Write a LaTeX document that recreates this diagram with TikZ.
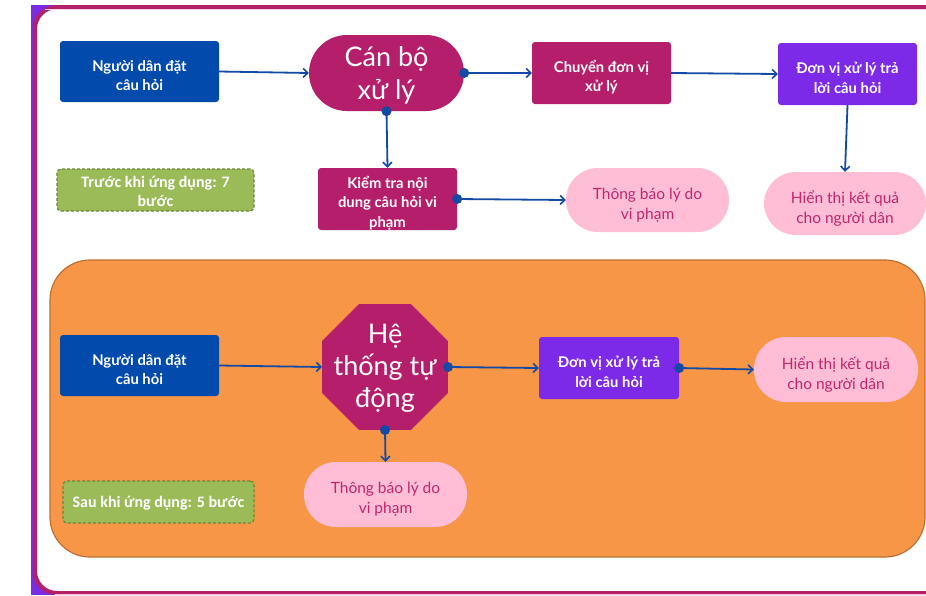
\documentclass[tikz,border=0pt]{standalone}
\usepackage{fontspec}
\setmainfont{Lato}
\newfontfamily\carl{Carlito}
\usetikzlibrary{shapes.geometric,arrows.meta}
\definecolor{fpurple}{RGB}{123,43,224}
\definecolor{fmag}{RGB}{181,32,106}
\definecolor{cblue}{RGB}{3,74,173}
\definecolor{cmag}{RGB}{180,30,106}
\definecolor{cpurple}{RGB}{125,42,232}
\definecolor{cpink}{RGB}{255,189,214}
\definecolor{cpinktext}{RGB}{190,40,110}
\definecolor{cgreen}{RGB}{155,187,89}
\definecolor{cgreenb}{RGB}{105,135,55}
\definecolor{corange}{RGB}{246,150,70}
\definecolor{coranb}{RGB}{190,112,52}
\definecolor{carrow}{RGB}{18,74,165}
\tikzset{
  box/.style={rectangle, rounded corners=3pt, inner sep=0pt},
  boxtext/.style={text=white, align=center, inner sep=0pt, yshift=-4pt,
    font=\fontsize{14.8}{19.5}\selectfont\bfseries},
  bigtext/.style={text=white, align=center, inner sep=0pt, yshift=-2pt,
    font=\fontsize{27}{33}\selectfont},
  pinktext/.style={text=cpinktext, align=center, inner sep=0pt, yshift=-5pt,
    font=\fontsize{15.5}{20}\selectfont},
  greentext/.style={text=white, align=center, inner sep=0pt, yshift=-1.5pt,
    font=\carl\fontsize{16}{18.5}\selectfont\bfseries},
  bluebox/.style={box, fill=cblue, minimum width=159, minimum height=61},
  magbox/.style={box, fill=cmag, minimum width=139, minimum height=62},
  purbox/.style={box, fill=cpurple, minimum width=139, minimum height=62},
  pinkbox/.style={rectangle, rounded corners=32pt, fill=cpink,
    minimum width=163, minimum height=64, inner sep=0pt},
  greenbox/.style={rectangle, rounded corners=4pt, fill=cgreen, draw=cgreenb,
    line width=1.2pt, dash pattern=on 3pt off 2pt, inner sep=0pt},
  conn/.style={draw=carrow, line width=1.8pt, -{Straight Barb[length=4.5pt,width=9pt,line width=1.6pt]}},
  dot/.style={fill=carrow},
}
\begin{document}
\begin{tikzpicture}[x=1pt,y=-1pt]
\useasboundingbox (0,0) rectangle (926,595);
% frame
\fill[fpurple] (31,5) rectangle (926,595);
\draw[fmag, line width=4pt, fill=white, rounded corners=22pt] (35,7) rectangle (990,593);
\draw[cpink!70, line width=1pt] (45,9.5) -- (926,9.5);
\draw[cpink, line width=1.5pt] (55,594.5) -- (926,594.5);
% bottom panel
\draw[fill=corange, draw=coranb, line width=1.2pt, rounded corners=40pt] (50,260) rectangle (925,557);

% top section
\node[bluebox, label={[boxtext]center:{Người dân đặt\\câu hỏi}}] (p1) at (139.5,71.5) {};
\node[box, fill=cmag, rounded corners=38pt, minimum width=155, minimum height=76,
  label={[bigtext]center:{Cán bộ\\xử lý}}] (cb) at (386.5,73) {};
\node[magbox, label={[boxtext]center:{Chuyển đơn vị\\xử lý}}] (cdv) at (601.5,73) {};
\node[purbox, label={[boxtext]center:{Đơn vị xử lý trả\\lời câu hỏi}}] (dv1) at (847.5,74) {};
\node[magbox, label={[boxtext]center:{Kiểm tra nội\\dung câu hỏi vi\\phạm}}] (kt) at (387.5,199) {};
\node[pinkbox, label={[pinktext]center:{Thông báo lý do\\vi phạm}}] (tb1) at (647.5,200) {};
\node[pinkbox, minimum width=162, minimum height=63,
  label={[pinktext]center:{Hiển thị kết quả\\cho người dân}}] (ht1) at (845,203.5) {};
\node[greenbox, minimum width=197, minimum height=42,
  label={[greentext]center:{Trước khi ứng dụng: 7\\bước}}] (g1) at (155.5,190) {};

\draw[conn] (p1.east) -- (cb.west);
\draw[conn] (cb.east) -- (cdv.west);
\fill[dot] (cb.east) circle (5pt);
\draw[conn] (cdv.east) -- (dv1.west);
\draw[conn] (cb.south) -- (kt.north);
\fill[dot] (cb.south) circle (5pt);
\draw[conn] (kt.east) -- (tb1.west);
\fill[dot] (kt.east) circle (5pt);
\draw[conn] (dv1.south) -- (ht1.north);

% bottom section
\node[bluebox, label={[boxtext]center:{Người dân đặt\\câu hỏi}}] (p2) at (139.5,365.5) {};
\node[regular polygon, regular polygon sides=8, fill=cmag, minimum size=136pt, inner sep=0pt,
  label={[bigtext, font=\fontsize{27}{32}\selectfont, yshift=1pt]center:{Hệ\\thống tự\\động}}] (ht) at (385,367) {};
\node[purbox, minimum width=140, label={[boxtext]center:{Đơn vị xử lý trả\\lời câu hỏi}}] (dv2) at (609,368) {};
\node[pinkbox, minimum width=164, minimum height=65,
  label={[pinktext]center:{Hiển thị kết quả\\cho người dân}}] (ht2) at (836,369.5) {};
\node[pinkbox, minimum height=65, label={[pinktext]center:{Thông báo lý do\\vi phạm}}] (tb2) at (385.5,494.5) {};
\node[greenbox, minimum width=191, minimum height=42,
  label={[greentext]center:{Sau khi ứng dụng: 5 bước}}] (g2) at (158.5,502) {};

\draw[conn] (p2.east) -- (ht.west);
\draw[conn] (ht.east) -- (dv2.west);
\fill[dot] (ht.east) circle (5pt);
\draw[conn] (dv2.east) -- (ht2.west);
\fill[dot] (dv2.east) circle (5pt);
\draw[conn] (ht.south) -- (tb2.north);
\fill[dot] (ht.south) circle (5pt);
\end{tikzpicture}
\end{document}
